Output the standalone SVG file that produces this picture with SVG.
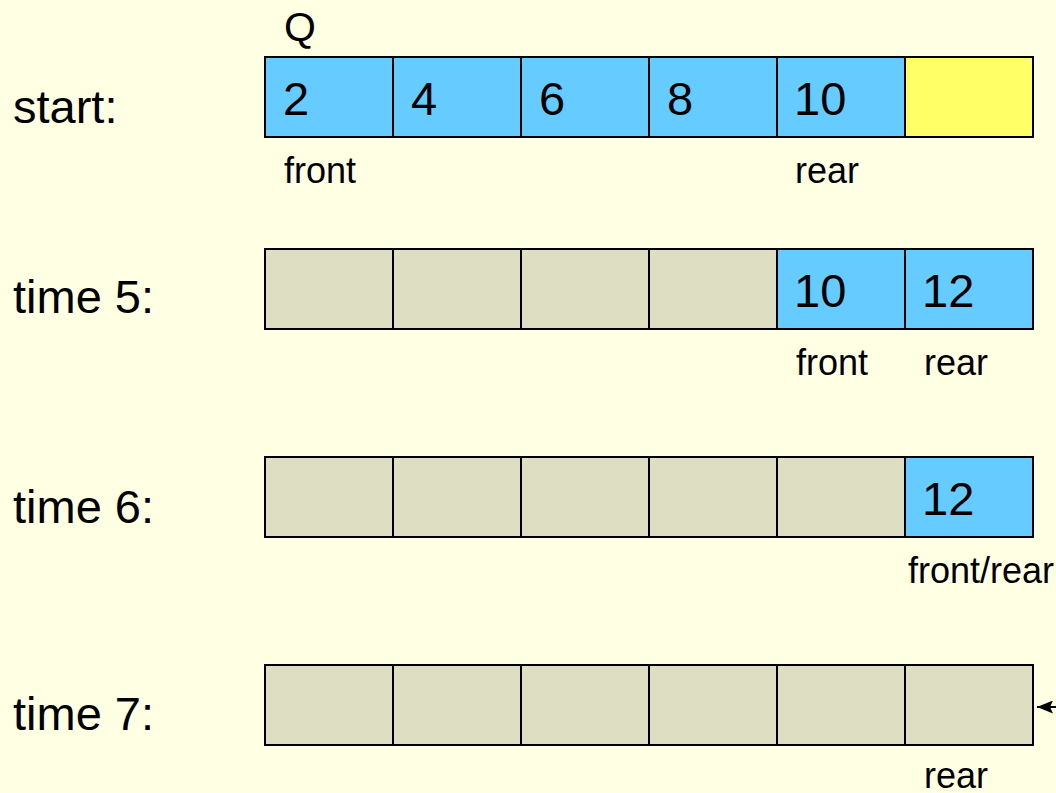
<svg xmlns="http://www.w3.org/2000/svg" width="1056" height="793" viewBox="0 0 1056 793">
<defs>
<style>
.t{font-family:"Liberation Sans",Arial,sans-serif;fill:#000}
.big{font-size:47px}
.lbl{font-size:36px}
.q{font-size:41px}
.c{stroke:#000;stroke-width:2}
.b{fill:#66CCFF}
.y{fill:#FFFF66}
.g{fill:#DEDEC3}
</style>
<marker id="ah" viewBox="0 0 16 13" refX="16" refY="6.5" markerWidth="16" markerHeight="13" markerUnits="userSpaceOnUse" orient="auto">
<path d="M16,6.5 L0,0 L3,6.5 L0,13 Z" fill="#000"/>
</marker>
</defs>
<rect width="1056" height="793" fill="#FFFFE3"/>
<g id="labels">
<text class="t big" x="13" y="123">start:</text>
<text class="t big" x="13" y="313">time 5:</text>
<text class="t big" x="13" y="523">time 6:</text>
<text class="t big" x="13" y="730">time 7:</text>
<text class="t q" x="284" y="41">Q</text>
</g>
<g id="row-start">
<rect class="c b" x="265" y="57" width="128" height="80"/>
<rect class="c b" x="393" y="57" width="128" height="80"/>
<rect class="c b" x="521" y="57" width="128" height="80"/>
<rect class="c b" x="649" y="57" width="128" height="80"/>
<rect class="c b" x="777" y="57" width="128" height="80"/>
<rect class="c y" x="905" y="57" width="128" height="80"/>
<text class="t big" x="283" y="115">2</text>
<text class="t big" x="411" y="115">4</text>
<text class="t big" x="539" y="115">6</text>
<text class="t big" x="667" y="115">8</text>
<text class="t big" x="794" y="115">10</text>
<text class="t lbl" x="284" y="183">front</text>
<text class="t lbl" x="795" y="183">rear</text>
</g>
<g id="row-time5">
<rect class="c g" x="265" y="249" width="128" height="80"/>
<rect class="c g" x="393" y="249" width="128" height="80"/>
<rect class="c g" x="521" y="249" width="128" height="80"/>
<rect class="c g" x="649" y="249" width="128" height="80"/>
<rect class="c b" x="777" y="249" width="128" height="80"/>
<rect class="c b" x="905" y="249" width="128" height="80"/>
<text class="t big" x="794" y="307">10</text>
<text class="t big" x="922" y="307">12</text>
<text class="t lbl" x="796" y="375">front</text>
<text class="t lbl" x="924" y="375">rear</text>
</g>
<g id="row-time6">
<rect class="c g" x="265" y="457" width="128" height="80"/>
<rect class="c g" x="393" y="457" width="128" height="80"/>
<rect class="c g" x="521" y="457" width="128" height="80"/>
<rect class="c g" x="649" y="457" width="128" height="80"/>
<rect class="c g" x="777" y="457" width="128" height="80"/>
<rect class="c b" x="905" y="457" width="128" height="80"/>
<text class="t big" x="922" y="515">12</text>
<text class="t lbl" x="908" y="583">front/rear</text>
</g>
<g id="row-time7">
<rect class="c g" x="265" y="665" width="128" height="80"/>
<rect class="c g" x="393" y="665" width="128" height="80"/>
<rect class="c g" x="521" y="665" width="128" height="80"/>
<rect class="c g" x="649" y="665" width="128" height="80"/>
<rect class="c g" x="777" y="665" width="128" height="80"/>
<rect class="c g" x="905" y="665" width="128" height="80"/>
<text class="t lbl" x="924" y="788">rear</text>
</g>
<g id="connectors">
<line x1="1070" y1="707" x2="1037" y2="707" stroke="#000" stroke-width="2" marker-end="url(#ah)"/>
</g>
</svg>
